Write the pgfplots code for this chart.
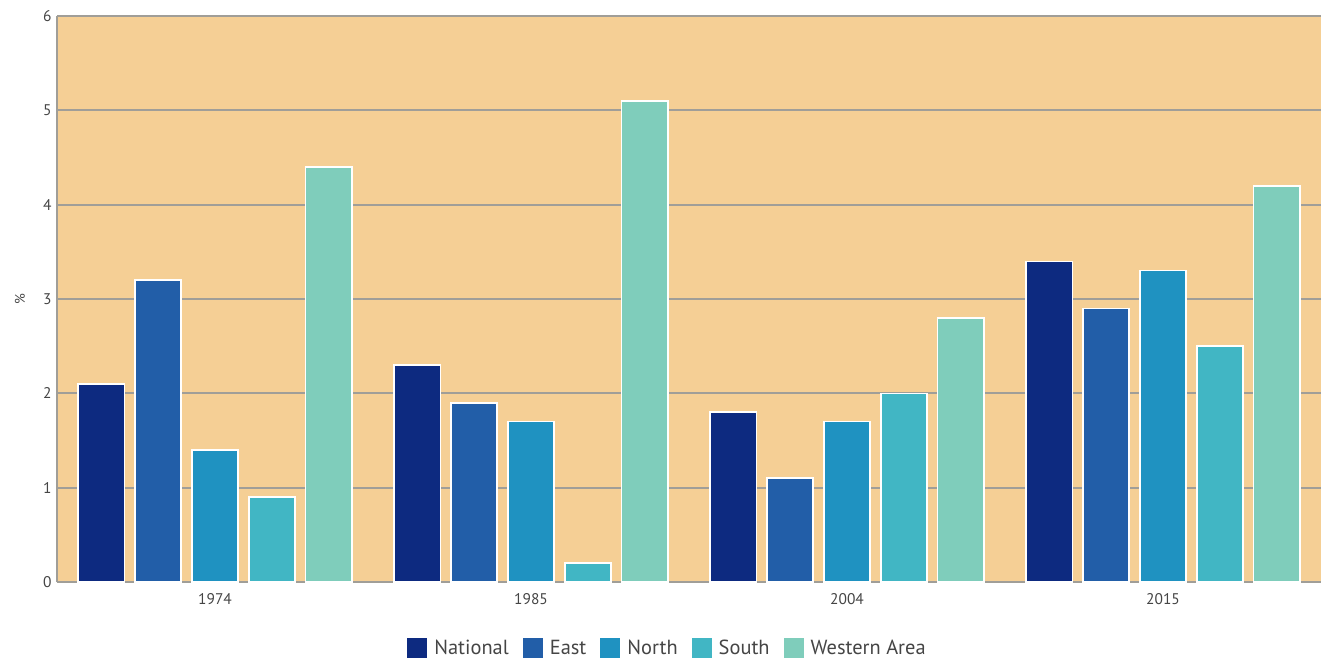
\documentclass[border=0pt]{standalone}
\usepackage{pgfplots}
\pgfplotsset{compat=1.18}
\usepackage{fontspec}
\setmainfont{PT Sans}

\definecolor{cNational}{HTML}{0D2A80}
\definecolor{cEast}{HTML}{225EA8}
\definecolor{cNorth}{HTML}{1F92C1}
\definecolor{cSouth}{HTML}{41B6C4}
\definecolor{cWestern}{HTML}{7FCDBB}
\definecolor{bgtan}{HTML}{F5CF95}
\definecolor{gridgray}{HTML}{A09E98}
\definecolor{labelgray}{HTML}{454545}

\begin{document}
\begin{tikzpicture}
\begin{axis}[
  name=ax,
  scale only axis,
  width=1264bp, height=566bp,
  xmin=-0.5, xmax=3.5,
  ymin=0, ymax=6,
  ytick={0,1,...,6},
  xtick={0,1,2,3},
  xticklabels={1974,1985,2004,2015},
  extra x ticks={-0.5,0.5,1.5,2.5,3.5},
  extra x tick labels={},
  extra x tick style={major tick length=9bp, tick align=outside,
    tick style={draw=gridgray, line width=1.2bp}},
  major x tick style={draw=none},
  major y tick style={draw=none},
  axis background/.style={fill=bgtan},
  ymajorgrids,
  grid style={draw=gridgray, line width=1.8bp},
  axis x line*=bottom,
  axis y line*=left,
  axis line style={draw=gridgray, line width=1.8bp, -},
  tick label style={font=\fontsize{15.5}{18}\selectfont, text=labelgray},
  /pgf/number format/assume math mode=true,
  yticklabel style={xshift=-2bp},
  xticklabel style={yshift=-4bp},
  ylabel={\%},
  ylabel style={font=\fontsize{14}{16}\selectfont, text=labelgray, at={(-37bp,283bp)}, anchor=center, rotate=0},
  ybar,
  bar width=0.146,
  every axis plot/.append style={draw=white, line width=1.5bp},
  legend columns=5,
  legend style={at={(0.483,-0.1166)}, anchor=center, draw=none, fill=none,
    font=\fontsize{20.5}{23}\selectfont, text=labelgray,
    /tikz/every odd column/.append style={column sep=5bp},
    /tikz/every even column/.append style={column sep=12bp}},
  legend image code/.code={\fill[#1, draw=none] (0bp,-10bp) rectangle (20bp,10bp);},
]
\addplot[fill=cNational, bar shift=-0.36] coordinates {(0,2.1) (1,2.3) (2,1.8) (3,3.4)};
\addplot[fill=cEast, bar shift=-0.18] coordinates {(0,3.2) (1,1.9) (2,1.1) (3,2.9)};
\addplot[fill=cNorth, bar shift=0] coordinates {(0,1.4) (1,1.7) (2,1.7) (3,3.3)};
\addplot[fill=cSouth, bar shift=0.18] coordinates {(0,0.9) (1,0.2) (2,2.0) (3,2.5)};
\addplot[fill=cWestern, bar shift=0.36] coordinates {(0,4.4) (1,5.1) (2,2.8) (3,4.2)};
\legend{National,East,North,South,Western Area}
\end{axis}
\pgfresetboundingbox
\path ([shift={(-57bp,-83bp)}]ax.south west) rectangle ([shift={(19bp,16bp)}]ax.north east);
\end{tikzpicture}
\end{document}
